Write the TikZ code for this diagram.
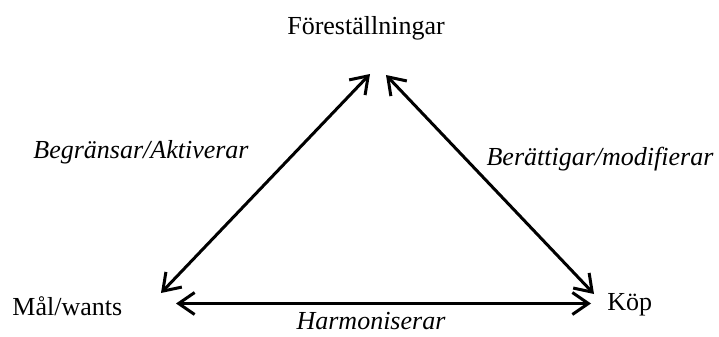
\documentclass[tikz,border=0pt]{standalone}
\usepackage{fontspec}
\setmainfont{Liberation Serif}
\usetikzlibrary{arrows.meta}
\begin{document}
\begin{tikzpicture}[x=0.5pt,y=-0.5pt,
  lbl/.style={inner sep=0pt,font=\fontsize{13}{15}\selectfont},
  ilbl/.style={inner sep=0pt,font=\fontsize{13}{15}\selectfont\itshape},
  conn/.style={line width=1.5pt,{Straight Barb[length=8pt,width=11pt]}-{Straight Barb[length=8pt,width=11pt]}}]
\useasboundingbox (0,0) rectangle (719,337);
% main nodes
\node[lbl,anchor=base] (fore) at (366,34) {Föreställningar};
\node[lbl,anchor=base west] (mal) at (12,315) {Mål/wants};
\node[lbl,anchor=base west] (kop) at (607,310) {Köp};
% edge labels
\node[ilbl,anchor=base] (begr) at (141,158) {Begränsar/Aktiverar};
\node[ilbl,anchor=base] (bera) at (600,165) {Berättigar/modifierar};
\node[ilbl,anchor=base] (harm) at (371,329) {Harmoniserar};
% connector end points
\coordinate (fL) at (370,74);
\coordinate (fR) at (386,75);
\coordinate (mT) at (161,293);
\coordinate (mR) at (176,303.5);
\coordinate (kT) at (594,294);
\coordinate (kL) at (591,303.5);
\draw[conn] (mT) -- (fL);
\draw[conn] (fR) -- (kT);
\draw[conn] (mR) -- (kL);
\end{tikzpicture}
\end{document}
